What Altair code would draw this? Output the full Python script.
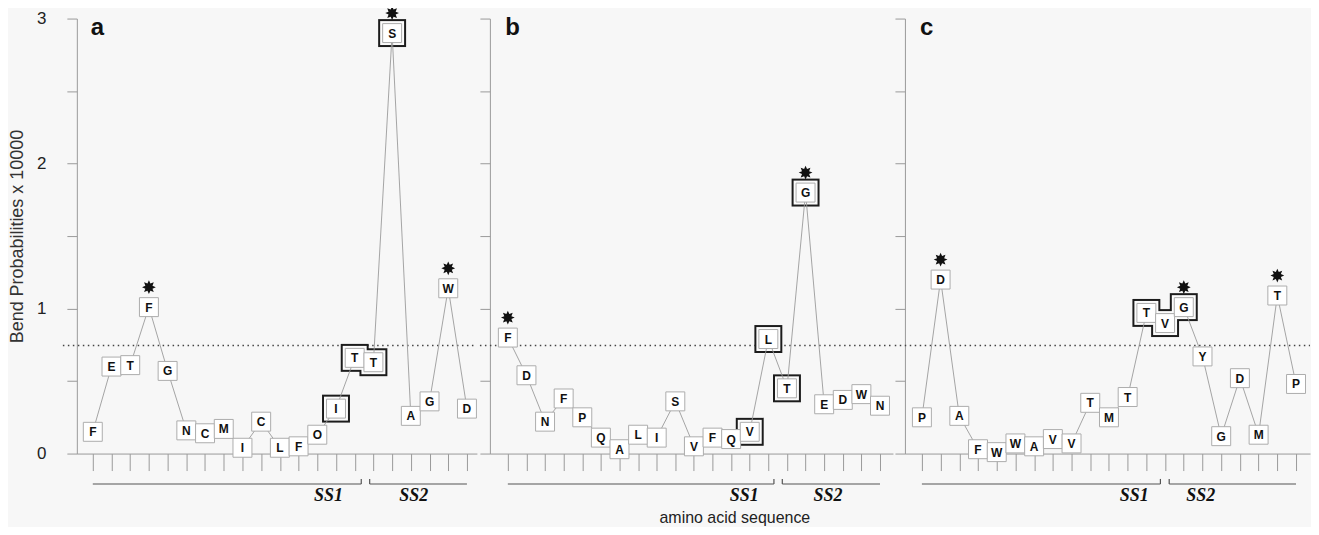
import math
import altair as alt
import pandas as pd

# ---------------- data ----------------
a_letters = ["F", "E", "T", "F", "G", "N", "C", "M", "I", "C", "L", "F", "O", "I", "T", "T", "S", "A", "G", "W", "D"]
a_values = [0.15, 0.60, 0.61, 1.01, 0.57, 0.16, 0.14, 0.17, 0.04, 0.22, 0.04, 0.05, 0.13, 0.31, 0.66, 0.63, 2.90, 0.26, 0.36, 1.14, 0.31]
a_boxed = [14, 15, 16, 17]
a_stars = [4, 17, 20]

b_letters = ["F", "D", "N", "F", "P", "Q", "A", "L", "I", "S", "V", "F", "Q", "V", "L", "T", "G", "E", "D", "W", "N"]
b_values = [0.80, 0.54, 0.22, 0.38, 0.25, 0.11, 0.03, 0.13, 0.11, 0.36, 0.05, 0.11, 0.10, 0.15, 0.79, 0.45, 1.80, 0.34, 0.37, 0.41, 0.33]
b_boxed = [14, 15, 16, 17]
b_stars = [1, 17]

c_letters = ["P", "D", "A", "F", "W", "W", "A", "V", "V", "T", "M", "T", "T", "V", "G", "Y", "G", "D", "M", "T", "P"]
c_values = [0.25, 1.20, 0.26, 0.03, 0.01, 0.07, 0.05, 0.10, 0.07, 0.35, 0.25, 0.39, 0.97, 0.90, 1.01, 0.67, 0.12, 0.52, 0.13, 1.09, 0.48]
c_boxed = [13, 14, 15]
c_stars = [2, 15, 20]

threshold = 0.745
panel_names = ["a", "b", "c"]
# where the SS1 bracket ends and the SS2 bracket starts (residue units)
ss_breaks = [(15.35, 15.80), (15.30, 15.75), (13.75, 14.22)]
# centres of the SS1 / SS2 labels (residue units)
ss_label_pos = [(13.6, 18.15), (13.7, 18.2), (12.35, 15.9)]
x_title = "amino acid sequence"
x_title_pos = 13.2
y_title = "Bend Probabilities x 10000"

# ---------------- style ----------------
BG = "#f7f7f7"
AXIS = "#9a9a9a"
SANS = "Liberation Sans, Arial, Helvetica, sans-serif"
SERIF = "Liberation Serif, Times New Roman, serif"
PLOT_H = 436
BRACKET_Y = -0.21
BRACKET_UP = -0.175
SS_LABEL_Y = -0.295
XTITLE_Y = -0.43


def star_path(n=8, r_out=1.0, r_in=0.56):
    pts = []
    for k in range(2 * n):
        ang = math.pi * k / n - math.pi / 2
        r = r_out if k % 2 == 0 else r_in
        pts.append(f"{r * math.cos(ang):.3f},{r * math.sin(ang):.3f}")
    return "M" + " L".join(pts) + " Z"


STAR = star_path()


def panel(idx, letters, values, boxed, stars, domain, width, dotted_x0):
    n = len(letters)
    name = panel_names[idx]
    first = idx == 0
    df = pd.DataFrame({"i": list(range(1, n + 1)), "letter": letters, "value": values})
    df["boxed"] = df["i"].isin(boxed)
    df["star"] = df["i"].isin(stars)

    xscale = alt.Scale(domain=list(domain), nice=False, zero=False)
    yscale = alt.Scale(domain=[0, 3], nice=False, zero=True)
    xaxis = alt.Axis(values=list(range(1, n + 1)), labels=False, tickSize=17, ticks=True,
                     domain=True, grid=False, title=None, domainColor=AXIS, tickColor=AXIS,
                     domainWidth=1, tickWidth=1)
    yvals = [0, 0.5, 1, 1.5, 2, 2.5, 3]
    if first:
        yaxis = alt.Axis(values=yvals, labelExpr="datum.value % 1 == 0 ? format(datum.value, 'd') : ''",
                         tickSize=10, labelPadding=21, labelFontSize=17, labelFont=SANS,
                         labelColor="#222", title=y_title, titleFont=SANS, titleFontSize=18,
                         titleFontWeight="normal", titleColor="#333", titlePadding=10,
                         domainColor=AXIS, tickColor=AXIS, grid=False, domainWidth=1, tickWidth=1)
    else:
        yaxis = alt.Axis(values=yvals, labels=False, tickSize=10, title=None, domainColor=AXIS,
                         tickColor=AXIS, grid=False, domainWidth=1, tickWidth=1)

    def X(f):
        return alt.X(f, type="quantitative", scale=xscale, axis=xaxis)

    def Y(f):
        return alt.Y(f, type="quantitative", scale=yscale, axis=yaxis)

    base = alt.Chart(df)

    dotted = alt.Chart(pd.DataFrame({"x0": [dotted_x0], "x1": [domain[1]], "y": [threshold]})).mark_rule(
        color="#444", strokeDash=[1.5, 3.5], strokeWidth=1.6
    ).encode(x=X("x0"), x2="x1", y=Y("y"))

    thick_outer = base.transform_filter("datum.boxed").mark_point(
        shape="square", filled=True, fill="#1c1c1c", size=28 * 28, opacity=1, strokeWidth=0
    ).encode(x=X("i"), y=Y("value"))
    thick_inner = base.transform_filter("datum.boxed").mark_point(
        shape="square", filled=True, fill="#fbfbfb", size=24 * 24, opacity=1, strokeWidth=0
    ).encode(x=X("i"), y=Y("value"))

    line = base.mark_line(color="#9a9a9a", strokeWidth=0.9).encode(x=X("i"), y=Y("value"), order="i:Q")

    boxes = base.mark_point(
        shape="square", filled=True, fill="#ffffff", stroke="#adadad", strokeWidth=1, size=19 * 19, opacity=1
    ).encode(x=X("i"), y=Y("value"))

    text = base.mark_text(font=SANS, fontWeight="bold", fontSize=12, color="#111", baseline="middle",
                          align="center", dy=0.5).encode(x=X("i"), y=Y("value"), text="letter:N")

    star = base.transform_filter("datum.star").mark_point(
        shape=STAR, filled=True, fill="#111", size=190, opacity=1, strokeWidth=0, yOffset=-20
    ).encode(x=X("i"), y=Y("value"))

    lab = alt.Chart(pd.DataFrame({"t": [name]})).mark_text(
        font=SANS, fontWeight="bold", fontSize=24, color="#111", align="center", baseline="alphabetic", dy=16
    ).encode(x=alt.X(datum=1.25, type="quantitative", scale=xscale, axis=xaxis),
             y=alt.Y(datum=3, type="quantitative", scale=yscale, axis=yaxis), text="t:N")

    s1_end, s2_start = ss_breaks[idx]
    br = pd.DataFrame({
        "x0": [1, s1_end, s2_start, s2_start],
        "x1": [s1_end, s1_end, s2_start, n],
        "y0": [BRACKET_Y, BRACKET_Y, BRACKET_Y, BRACKET_Y],
        "y1": [BRACKET_Y, BRACKET_UP, BRACKET_UP, BRACKET_Y],
    })
    bracket = alt.Chart(br).mark_rule(color="#555", strokeWidth=1.2).encode(
        x=X("x0"), x2="x1", y=Y("y0"), y2="y1")

    p1, p2 = ss_label_pos[idx]
    ssl = alt.Chart(pd.DataFrame({"x": [p1, p2], "t": ["SS1", "SS2"], "y": [SS_LABEL_Y, SS_LABEL_Y]})).mark_text(
        font=SERIF, fontStyle="italic", fontWeight="bold", fontSize=18, color="#111",
        align="center", baseline="middle"
    ).encode(x=X("x"), y=Y("y"), text="t:N")

    layers = [dotted, thick_outer, thick_inner, line, boxes, text, star, lab, bracket, ssl]
    if idx == 1:
        xt = alt.Chart(pd.DataFrame({"t": [x_title], "x": [x_title_pos], "y": [XTITLE_Y]})).mark_text(
            font=SANS, fontSize=16, color="#222", align="center", baseline="middle", dy=2
        ).encode(x=X("x"), y=Y("y"), text="t:N")
        layers.append(xt)

    return alt.layer(*layers).properties(width=width, height=PLOT_H)


pa = panel(0, a_letters, a_values, a_boxed, a_stars, (0.147, 21.533), 401, -0.60)
pb = panel(1, b_letters, b_values, b_boxed, b_stars, (0.035, 21.697), 404, -0.50)
pc = panel(2, c_letters, c_values, c_boxed, c_stars, (0.093, 21.747), 406, -0.45)

chart = alt.hconcat(pa, pb, pc, spacing=0).properties(
    padding={"left": 0, "right": 0, "top": -3, "bottom": 0},
    background=BG,
).configure_view(stroke="transparent", strokeWidth=0)

chart.save("out.html", embed_options={"renderer": "svg", "actions": False})
